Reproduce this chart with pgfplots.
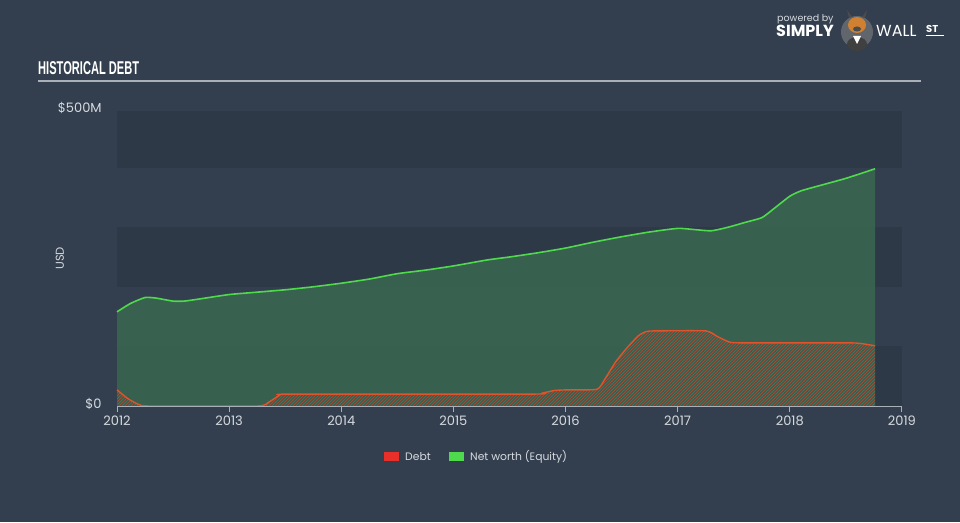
\documentclass[border=0pt]{standalone}
\usepackage{pgfplots}
\pgfplotsset{compat=1.18}
\usepackage{fontspec}
\setmainfont{Poppins}
\newfontfamily\titlefont[FakeStretch=0.6]{Liberation Sans}
\newfontfamily\logofont{Poppins}
\usetikzlibrary{patterns}
\definecolor{bg}{HTML}{333F4E}
\definecolor{band}{HTML}{2D3947}
\definecolor{eqfill}{HTML}{3A6450}
\definecolor{eqline}{HTML}{4FD94C}
\definecolor{debtline}{HTML}{E2532B}
\definecolor{debtleg}{HTML}{E8302A}
\definecolor{txt}{HTML}{D6DAE0}
\definecolor{axisgray}{HTML}{A9B0B8}
\begin{document}
\begin{tikzpicture}
\begin{scope}[x=1pt,y=1pt]
\fill[bg] (0,0) rectangle (960,522);
% title
\node[anchor=base west,text=white,font=\titlefont\bfseries\fontsize{18.5}{18.5}\selectfont,inner sep=0] at (38,447) {HISTORICAL DEBT};
\draw[axisgray,line width=1.6pt] (38,441) -- (921,441);
% logo
\node[anchor=base west,text=txt,font=\logofont\fontsize{9.5}{9.5}\selectfont,inner sep=0] at (777,500) {powered by};
\node[anchor=base west,text=white,font=\logofont\bfseries\fontsize{16}{16}\selectfont,inner sep=0] at (776,485) {SIMPLY};
\fill[gray!60!bg] (857,490) circle (16);
\fill[black!75] (857,478) ellipse (10 and 7);
\fill[white] (857,478) -- (853,486) -- (861,486) -- cycle;
\fill[brown!75!orange] (857,497) ellipse (9 and 8);
\fill[black!70] (857,493) ellipse (4 and 2.5);
\fill[black!70] (849,504) -- (847,512) -- (852,505) -- cycle;
\fill[black!70] (865,504) -- (867,512) -- (862,505) -- cycle;
\node[anchor=base west,text=white,font=\logofont\fontsize{16}{16}\selectfont,inner sep=0] at (876,485) {WALL};
\node[anchor=base west,text=white,font=\logofont\bfseries\fontsize{10}{10}\selectfont,inner sep=0] at (926,489) {ST};
\draw[white,line width=0.8pt] (926,486.5) -- (944,486.5);
% legend
\fill[debtleg] (384,61) rectangle (399,70);
\node[anchor=base west,text=txt,font=\fontsize{10.8}{10.8}\selectfont,inner sep=0] at (405,61.5) {Debt};
\fill[eqline] (449,61) rectangle (464,70);
\node[anchor=base west,text=txt,font=\fontsize{10.8}{10.8}\selectfont,inner sep=0] at (470,61.5) {Net worth (Equity)};
\end{scope}
\begin{axis}[
  at={(117pt,116pt)}, anchor=south west,
  scale only axis, width=785pt, height=298pt,
  xmin=2012, xmax=2019, ymin=0, ymax=500,
  axis line style={draw=none},
  axis x line*=bottom, axis y line=none,
  xtick={2012,...,2019},
  xticklabels={2012,2013,2014,2015,2016,2017,2018,2019},
  x tick label style={text=txt,font=\fontsize{13}{13}\selectfont,yshift=0pt},
  major tick length=6pt,
  tick style={axisgray,line width=1pt},
  xtick align=outside,
  clip=false,
  /pgf/number format/assume math mode=true,
]
% bands
\fill[band] (axis cs:2012,0) rectangle (axis cs:2019,100);
\fill[band] (axis cs:2012,200) rectangle (axis cs:2019,300);
\fill[band] (axis cs:2012,400) rectangle (axis cs:2019,495);
% equity
\addplot[draw=none,fill=eqfill,fill opacity=0.92,smooth,tension=0.35] coordinates {
(2012.0,158) (2012.12,172) (2012.25,182) (2012.35,181) (2012.5,176) (2012.6,176) (2012.75,180)
(2013.0,187) (2013.25,191) (2013.5,195) (2013.75,200) (2014.0,206) (2014.25,213)
(2014.5,222) (2014.75,228) (2015.0,235) (2015.3,245) (2015.5,250) (2015.75,257)
(2016.0,265) (2016.25,275) (2016.5,284) (2016.75,292) (2017.0,298) (2017.15,296) (2017.3,294)
(2017.45,300) (2017.6,308) (2017.75,316) (2017.85,330) (2018.0,352) (2018.1,361) (2018.25,369)
(2018.5,382) (2018.76,398)} \closedcycle;
\addplot[eqline,line width=1.6pt,smooth,tension=0.35] coordinates {
(2012.0,158) (2012.12,172) (2012.25,182) (2012.35,181) (2012.5,176) (2012.6,176) (2012.75,180)
(2013.0,187) (2013.25,191) (2013.5,195) (2013.75,200) (2014.0,206) (2014.25,213)
(2014.5,222) (2014.75,228) (2015.0,235) (2015.3,245) (2015.5,250) (2015.75,257)
(2016.0,265) (2016.25,275) (2016.5,284) (2016.75,292) (2017.0,298) (2017.15,296) (2017.3,294)
(2017.45,300) (2017.6,308) (2017.75,316) (2017.85,330) (2018.0,352) (2018.1,361) (2018.25,369)
(2018.5,382) (2018.76,398)};
% debt
\addplot[draw=none,pattern=north east lines,pattern color=debtline!70!bg,smooth,tension=0.3] coordinates {
(2012.0,27) (2012.1,12) (2012.2,2) (2012.3,0) (2013.25,0) (2013.35,6) (2013.45,18) (2013.55,20)
(2015.7,20) (2015.8,22) (2015.9,26) (2016.0,27) (2016.28,28) (2016.35,45) (2016.45,75) (2016.55,98)
(2016.65,118) (2016.72,125) (2016.8,126) (2017.25,126) (2017.35,117) (2017.45,108) (2017.55,106)
(2018.5,106) (2018.63,105) (2018.76,101)} \closedcycle;
\addplot[debtline,line width=1.4pt,smooth,tension=0.3] coordinates {
(2012.0,27) (2012.1,12) (2012.2,2) (2012.3,0) (2013.25,0) (2013.35,6) (2013.45,18) (2013.55,20)
(2015.7,20) (2015.8,22) (2015.9,26) (2016.0,27) (2016.28,28) (2016.35,45) (2016.45,75) (2016.55,98)
(2016.65,118) (2016.72,125) (2016.8,126) (2017.25,126) (2017.35,117) (2017.45,108) (2017.55,106)
(2018.5,106) (2018.63,105) (2018.76,101)};
% x axis line
\draw[axisgray,line width=1pt] (axis cs:2012,0) -- (axis cs:2019,0);
% y labels
\node[anchor=east,text=txt,font=\fontsize{13}{13}\selectfont,inner sep=0] at (axis cs:2011.865,4) {\$0};
\node[anchor=east,text=txt,font=\fontsize{13}{13}\selectfont,inner sep=0] at (axis cs:2011.865,500) {\$500M};
\node[rotate=90,text=txt,font=\fontsize{11.5}{11.5}\selectfont,inner sep=0] at (axis cs:2011.49,248) {USD};
\end{axis}
\end{tikzpicture}
\end{document}
